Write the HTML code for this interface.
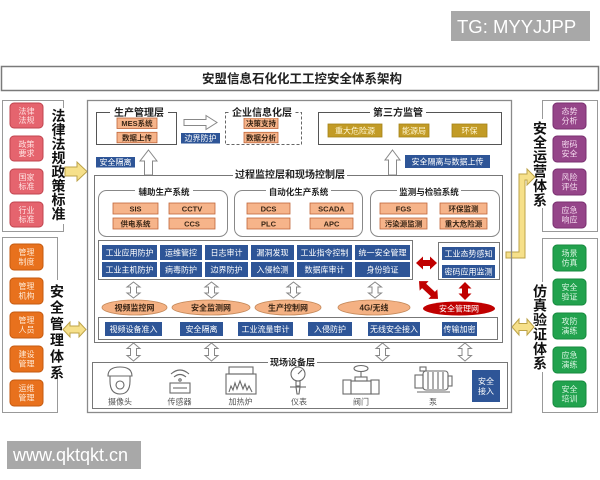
<!DOCTYPE html>
<html><head><meta charset="utf-8">
<style>
html,body{margin:0;padding:0;background:#fff;width:600px;height:480px;overflow:hidden}
svg{display:block}
text{font-family:"Liberation Sans","Noto Sans CJK SC",sans-serif}
</style></head><body>
<svg width="600" height="480" viewBox="0 0 600 480" xmlns="http://www.w3.org/2000/svg">
<rect width="600" height="480" fill="#fff"/>

<!-- watermarks -->
<rect x="451" y="11" width="139" height="30" fill="#a8a8a8"/>
<text x="457" y="33" font-size="18.5" fill="#fff">TG: MYYJJPP</text>
<rect x="7" y="441" width="134" height="28" fill="#a8a8a8"/>
<text x="13" y="461" font-size="18" fill="#fff">www.qktqkt.cn</text>

<!-- title -->
<rect x="1.5" y="66.5" width="597" height="24" fill="#fff" stroke="#7a7a7a" stroke-width="1.5"/>
<text x="302" y="83" font-size="12.5" font-weight="bold" text-anchor="middle" fill="#222">安盟信息石化化工工控安全体系架构</text>

<!-- LEFT UPPER PANEL -->
<rect x="2.5" y="100.5" width="61" height="131" fill="none" stroke="#999"/>
<rect x="50" y="108" width="17" height="116" fill="#fff"/>
<g font-size="14" font-weight="bold" text-anchor="middle" fill="#111">
<text x="58.5" y="121">法</text><text x="58.5" y="135">律</text><text x="58.5" y="149">法</text><text x="58.5" y="163">规</text>
<text x="58.5" y="177">政</text><text x="58.5" y="191">策</text><text x="58.5" y="205">标</text><text x="58.5" y="219">准</text>
</g>
<g fill="#e5646e" stroke="#c0454f">
<rect x="10" y="103" width="33" height="25" rx="4"/><rect x="10" y="136" width="33" height="25" rx="4"/>
<rect x="10" y="169" width="33" height="25" rx="4"/><rect x="10" y="202" width="33" height="25" rx="4"/>
</g>
<g font-size="8" fill="#ffe2e2" text-anchor="middle">
<text x="26.5" y="114">法律</text><text x="26.5" y="123">法规</text>
<text x="26.5" y="147">政策</text><text x="26.5" y="156">要求</text>
<text x="26.5" y="180">国家</text><text x="26.5" y="189">标准</text>
<text x="26.5" y="213">行业</text><text x="26.5" y="222">标准</text>
</g>
<path d="M65,167 L77,167 L77,162 L87,171.5 L77,181 L77,176 L65,176 Z" fill="#f6e08a" stroke="#bda348"/>

<!-- LEFT LOWER PANEL -->
<rect x="2.5" y="237.5" width="55" height="175" fill="none" stroke="#999"/>
<rect x="49" y="280" width="17" height="98" fill="#fff"/>
<g font-size="14" font-weight="bold" text-anchor="middle" fill="#111">
<text x="57" y="296.3">安</text><text x="57" y="312.6">全</text><text x="57" y="328.9">管</text>
<text x="57" y="345.2">理</text><text x="57" y="361.5">体</text><text x="57" y="377.8">系</text>
</g>
<g fill="#e8711d" stroke="#c55a10">
<rect x="10" y="244" width="33" height="26" rx="4"/><rect x="10" y="278" width="33" height="26" rx="4"/>
<rect x="10" y="312" width="33" height="26" rx="4"/><rect x="10" y="346" width="33" height="26" rx="4"/>
<rect x="10" y="380" width="33" height="26" rx="4"/>
</g>
<g font-size="8" fill="#ffead6" text-anchor="middle">
<text x="26.5" y="255">管理</text><text x="26.5" y="264.5">制度</text>
<text x="26.5" y="289">管理</text><text x="26.5" y="298.5">机构</text>
<text x="26.5" y="323">管理</text><text x="26.5" y="332.5">人员</text>
<text x="26.5" y="357">建设</text><text x="26.5" y="366.5">管理</text>
<text x="26.5" y="391">运维</text><text x="26.5" y="400.5">管理</text>
</g>
<path d="M63,329.5 L70,322 L70,326 L79,326 L79,322 L86,329.5 L79,337 L79,333 L70,333 L70,337 Z" fill="#f6e08a" stroke="#bda348"/>

<!-- RIGHT UPPER PANEL -->
<rect x="542.5" y="100.5" width="55" height="131" fill="none" stroke="#999"/>
<rect x="532" y="119" width="17" height="89" fill="#fff"/>
<g font-size="14" font-weight="bold" text-anchor="middle" fill="#111">
<text x="540" y="133.3">安</text><text x="540" y="147.7">全</text><text x="540" y="162.1">运</text>
<text x="540" y="176.5">营</text><text x="540" y="190.9">体</text><text x="540" y="205.3">系</text>
</g>
<g fill="#954589" stroke="#7a3070">
<rect x="553" y="103" width="33" height="26" rx="4"/><rect x="553" y="136" width="33" height="26" rx="4"/>
<rect x="553" y="169" width="33" height="26" rx="4"/><rect x="553" y="202" width="33" height="26" rx="4"/>
</g>
<g font-size="8" fill="#f6dcf0" text-anchor="middle">
<text x="569.5" y="114">态势</text><text x="569.5" y="123.5">分析</text>
<text x="569.5" y="147">密码</text><text x="569.5" y="156.5">安全</text>
<text x="569.5" y="180">风险</text><text x="569.5" y="189.5">评估</text>
<text x="569.5" y="213">应急</text><text x="569.5" y="222.5">响应</text>
</g>

<!-- RIGHT LOWER PANEL -->
<rect x="542.5" y="238.5" width="55" height="174" fill="none" stroke="#999"/>
<rect x="532" y="282" width="17" height="90" fill="#fff"/>
<g font-size="14" font-weight="bold" text-anchor="middle" fill="#111">
<text x="540" y="296.3">仿</text><text x="540" y="310.7">真</text><text x="540" y="325.1">验</text>
<text x="540" y="339.5">证</text><text x="540" y="353.9">体</text><text x="540" y="368.3">系</text>
</g>
<g fill="#22a24e" stroke="#168a3e">
<rect x="553" y="245" width="33" height="26" rx="4"/><rect x="553" y="279" width="33" height="26" rx="4"/>
<rect x="553" y="313" width="33" height="26" rx="4"/><rect x="553" y="347" width="33" height="26" rx="4"/>
<rect x="553" y="381" width="33" height="26" rx="4"/>
</g>
<g font-size="8" fill="#dcf6e4" text-anchor="middle">
<text x="569.5" y="256">场景</text><text x="569.5" y="265.5">仿真</text>
<text x="569.5" y="290">安全</text><text x="569.5" y="299.5">验证</text>
<text x="569.5" y="324">攻防</text><text x="569.5" y="333.5">演练</text>
<text x="569.5" y="358">应急</text><text x="569.5" y="367.5">演练</text>
<text x="569.5" y="392">安全</text><text x="569.5" y="401.5">培训</text>
</g>
<path d="M512,327 L519,319 L519,323.5 L527,323.5 L527,319 L534,327 L527,335 L527,330.5 L519,330.5 L519,335 Z" fill="#f6e08a" stroke="#bda348"/>
<path d="M506,252 L519,252 L519,174 L527,174 L527,169 L535,177 L527,185 L527,180 L525,180 L525,258 L506,258 Z" fill="#f6e08a" stroke="#bda348"/>

<!-- MAIN BOX -->
<rect x="87.5" y="100.5" width="424" height="312" fill="none" stroke="#8a8a8a" stroke-width="1.3"/>

<!-- 生产管理层 -->
<rect x="96.5" y="112.5" width="80" height="32" fill="none" stroke="#555"/>
<rect x="110" y="106" width="58" height="12" fill="#fff"/>
<text x="139" y="115.8" font-size="10" font-weight="bold" text-anchor="middle" fill="#222">生产管理层</text>
<g fill="#f6b48a" stroke="#c0663a" stroke-width="0.8">
<rect x="117" y="118" width="40" height="10.5"/><rect x="117" y="132.3" width="40" height="10.5"/>
<rect x="244" y="118" width="34" height="10.5"/><rect x="244" y="132.3" width="34" height="10.5"/>
</g>
<g font-size="7.5" font-weight="bold" text-anchor="middle" fill="#3a2616">
<text x="137" y="126">MES系统</text><text x="137" y="140.3">数据上传</text>
<text x="261" y="126">决策支持</text><text x="261" y="140.3">数据分析</text>
</g>
<path d="M184,119.5 L206,119.5 L206,115.5 L217,122.5 L206,129.5 L206,125.5 L184,125.5 Z" fill="#fff" stroke="#888"/>
<rect x="181" y="133" width="39" height="10.5" fill="#2e5597"/>
<text x="200.5" y="141" font-size="8" text-anchor="middle" fill="#fff">边界防护</text>

<!-- 企业信息化层 -->
<rect x="225.5" y="112.5" width="76" height="32" fill="none" stroke="#666" stroke-dasharray="3,2"/>
<rect x="230" y="106" width="64" height="12" fill="#fff"/>
<text x="262" y="115.8" font-size="10" font-weight="bold" text-anchor="middle" fill="#222">企业信息化层</text>

<rect x="96" y="157" width="39" height="10.5" fill="#2e5597"/>
<text x="115.5" y="165" font-size="8" text-anchor="middle" fill="#fff">安全隔离</text>
<path d="M148.5,150 L157,161 L152.5,161 L152.5,175 L144.5,175 L144.5,161 L140,161 Z" fill="#fff" stroke="#888"/>

<!-- 第三方监管 -->
<rect x="318.5" y="112.5" width="183" height="32" fill="none" stroke="#555"/>
<rect x="370" y="106" width="56" height="12" fill="#fff"/>
<text x="398" y="115.8" font-size="10" font-weight="bold" text-anchor="middle" fill="#222">第三方监管</text>
<g fill="#c29b26" stroke="#a5831a" stroke-width="0.8">
<rect x="328" y="124" width="54" height="13"/><rect x="399" y="124" width="30" height="13"/><rect x="452" y="124" width="35" height="13"/>
</g>
<g font-size="8" text-anchor="middle" fill="#fff6d0">
<text x="355" y="133.3">重大危险源</text><text x="414" y="133.3">能源局</text><text x="469.5" y="133.3">环保</text>
</g>
<path d="M392.5,150 L400,160 L396.5,160 L396.5,175 L388.5,175 L388.5,160 L385,160 Z" fill="#fff" stroke="#888"/>
<rect x="405" y="155" width="85" height="13" fill="#2e5597"/>
<text x="447.5" y="164.3" font-size="8" text-anchor="middle" fill="#fff">安全隔离与数据上传</text>

<!-- PROCESS BOX -->
<rect x="94.5" y="175.5" width="408" height="167" fill="none" stroke="#777"/>
<rect x="233" y="168" width="114" height="12" fill="#fff"/>
<text x="290" y="177.8" font-size="10" font-weight="bold" text-anchor="middle" fill="#222">过程监控层和现场控制层</text>

<!-- subsystems -->
<g fill="none" stroke="#888">
<rect x="98.5" y="190.5" width="129" height="46" rx="8"/>
<rect x="234.5" y="190.5" width="128" height="46" rx="8"/>
<rect x="370.5" y="190.5" width="129" height="46" rx="8"/>
</g>
<g fill="#fff">
<rect x="135" y="186" width="58" height="10"/><rect x="266" y="186" width="65" height="10"/><rect x="397" y="186" width="64" height="10"/>
</g>
<g font-size="8.5" font-weight="bold" text-anchor="middle" fill="#222">
<text x="164" y="195">辅助生产系统</text><text x="298.5" y="195">自动化生产系统</text><text x="429" y="195">监测与检验系统</text>
</g>
<g fill="#f6b48a" stroke="#c0663a" stroke-width="0.8">
<rect x="113" y="203" width="45" height="11"/><rect x="169" y="203" width="46" height="11"/>
<rect x="113" y="218" width="45" height="11"/><rect x="169" y="218" width="46" height="11"/>
<rect x="247" y="203" width="43" height="11"/><rect x="310" y="203" width="43" height="11"/>
<rect x="247" y="218" width="43" height="11"/><rect x="310" y="218" width="43" height="11"/>
<rect x="380" y="203" width="47" height="11"/><rect x="440" y="203" width="47" height="11"/>
<rect x="380" y="218" width="47" height="11"/><rect x="440" y="218" width="47" height="11"/>
</g>
<g font-size="7.5" font-weight="bold" text-anchor="middle" fill="#3a2616">
<text x="135.5" y="211.3">SIS</text><text x="192" y="211.3">CCTV</text>
<text x="135.5" y="226.3">供电系统</text><text x="192" y="226.3">CCS</text>
<text x="268.5" y="211.3">DCS</text><text x="331.5" y="211.3">SCADA</text>
<text x="268.5" y="226.3">PLC</text><text x="331.5" y="226.3">APC</text>
<text x="403.5" y="211.3">FGS</text><text x="463.5" y="211.3">环保监测</text>
<text x="403.5" y="226.3">污染源监测</text><text x="463.5" y="226.3">重大危险源</text>
</g>

<!-- blue grid -->
<rect x="98.5" y="240.5" width="314" height="39" fill="#fff" stroke="#777"/>
<g fill="#2e5597">
<rect x="102" y="245" width="55" height="15"/><rect x="160" y="245" width="42" height="15"/><rect x="205" y="245" width="43" height="15"/>
<rect x="251" y="245" width="43" height="15"/><rect x="297" y="245" width="55" height="15"/><rect x="355" y="245" width="55" height="15"/>
<rect x="102" y="262" width="55" height="15"/><rect x="160" y="262" width="42" height="15"/><rect x="205" y="262" width="43" height="15"/>
<rect x="251" y="262" width="43" height="15"/><rect x="297" y="262" width="55" height="15"/><rect x="355" y="262" width="55" height="15"/>
</g>
<g font-size="8" text-anchor="middle" fill="#fff">
<text x="129.5" y="255.3">工业应用防护</text><text x="181" y="255.3">运维管控</text><text x="226.5" y="255.3">日志审计</text>
<text x="272.5" y="255.3">漏洞发现</text><text x="324.5" y="255.3">工业指令控制</text><text x="382.5" y="255.3">统一安全管理</text>
<text x="129.5" y="272.3">工业主机防护</text><text x="181" y="272.3">病毒防护</text><text x="226.5" y="272.3">边界防护</text>
<text x="272.5" y="272.3">入侵检测</text><text x="324.5" y="272.3">数据库审计</text><text x="382.5" y="272.3">身份验证</text>
</g>

<!-- right small box -->
<rect x="438.5" y="242.5" width="61" height="37" fill="#fff" stroke="#777"/>
<rect x="442" y="247" width="53" height="13" fill="#2e5597"/>
<rect x="442" y="265" width="53" height="13" fill="#2e5597"/>
<g font-size="8" text-anchor="middle" fill="#fff">
<text x="468.5" y="256.3">工业态势感知</text><text x="468.5" y="274.3">密码应用监测</text>
</g>

<!-- red arrows -->
<g fill="#c00000">
<path d="M416,263 L423,256.5 L423,260 L430,260 L430,256.5 L437,263 L430,269.5 L430,266 L423,266 L423,269.5 Z"/>
<g transform="translate(428.5,290) rotate(43)"><path d="M-13,0 L-6,-6.5 L-6,-3 L6,-3 L6,-6.5 L13,0 L6,6.5 L6,3 L-6,3 L-6,6.5 Z"/></g>
<path d="M465,282 L471.5,288.5 L468,288.5 L468,293.5 L471.5,293.5 L465,300 L458.5,293.5 L462,293.5 L462,288.5 L458.5,288.5 Z"/>
</g>

<!-- hollow double arrows -->
<g fill="#fff" stroke="#888">
<path d="M133.5,282 L140,287 L136.5,287 L136.5,293 L140,293 L133.5,298 L127,293 L130.5,293 L130.5,287 L127,287 Z"/>
<path d="M211.5,282 L218,287 L214.5,287 L214.5,293 L218,293 L211.5,298 L205,293 L208.5,293 L208.5,287 L205,287 Z"/>
<path d="M293.5,282 L300,287 L296.5,287 L296.5,293 L300,293 L293.5,298 L287,293 L290.5,293 L290.5,287 L287,287 Z"/>
<path d="M375,282 L381.5,287 L378,287 L378,293 L381.5,293 L375,298 L368.5,293 L372,293 L372,287 L368.5,287 Z"/>
<path d="M133.5,343 L140,348.5 L136.5,348.5 L136.5,355.5 L140,355.5 L133.5,361 L127,355.5 L130.5,355.5 L130.5,348.5 L127,348.5 Z"/>
<path d="M211.5,343 L218,348.5 L214.5,348.5 L214.5,355.5 L218,355.5 L211.5,361 L205,355.5 L208.5,355.5 L208.5,348.5 L205,348.5 Z"/>
<path d="M382.5,343 L389,348.5 L385.5,348.5 L385.5,355.5 L389,355.5 L382.5,361 L376,355.5 L379.5,355.5 L379.5,348.5 L376,348.5 Z"/>
<path d="M465,343 L471.5,348.5 L468,348.5 L468,355.5 L471.5,355.5 L465,361 L458.5,355.5 L462,355.5 L462,348.5 L458.5,348.5 Z"/>
</g>

<!-- ellipses -->
<g fill="#f4b183" stroke="#c5895a" stroke-width="0.8">
<ellipse cx="134.5" cy="307.5" rx="32.5" ry="7.5"/>
<ellipse cx="211" cy="307.5" rx="39" ry="7.5"/>
<ellipse cx="288" cy="307.5" rx="33" ry="7.5"/>
<ellipse cx="374" cy="307.5" rx="36" ry="7.5"/>
</g>
<ellipse cx="459" cy="308.5" rx="36" ry="7" fill="#c00000"/>
<g font-size="8" font-weight="bold" text-anchor="middle" fill="#3a2616">
<text x="134.5" y="310.3">视频监控网</text><text x="211" y="310.3">安全监测网</text>
<text x="288" y="310.3">生产控制网</text><text x="374" y="310.3">4G/无线</text>
</g>
<text x="459" y="311.3" font-size="8" text-anchor="middle" fill="#fff">安全管理网</text>

<!-- lower row -->
<rect x="98.5" y="317.5" width="399" height="22" fill="#fff" stroke="#777"/>
<g fill="#2e5597">
<rect x="105" y="322" width="57" height="14"/><rect x="180" y="322" width="43" height="14"/><rect x="238" y="322" width="55" height="14"/>
<rect x="308" y="322" width="44" height="14"/><rect x="368" y="322" width="52" height="14"/><rect x="442" y="322" width="35" height="14"/>
</g>
<g font-size="8" text-anchor="middle" fill="#fff">
<text x="133.5" y="331.8">视频设备准入</text><text x="201.5" y="331.8">安全隔离</text><text x="265.5" y="331.8">工业流量审计</text>
<text x="330" y="331.8">入侵防护</text><text x="394" y="331.8">无线安全接入</text><text x="459.5" y="331.8">传输加密</text>
</g>

<!-- FIELD LAYER -->
<rect x="92.5" y="362.5" width="415" height="46" fill="none" stroke="#777"/>
<rect x="268" y="357" width="49" height="10" fill="#fff"/>
<text x="292.5" y="365.3" font-size="9" font-weight="bold" text-anchor="middle" fill="#222">现场设备层</text>

<g fill="none" stroke="#6a6a6a" stroke-width="1.1">
<!-- camera -->
<path d="M108,376 Q108,367 120,367 Q132,367 132,376 Z"/>
<path d="M110,376 L110,381 Q110,394 120,394 Q130,394 130,381 L130,376"/>
<circle cx="120" cy="385" r="4"/>
<!-- sensor -->
<path d="M171,374 Q180,366 189,374"/>
<path d="M174,377 Q180,372 186,377"/>
<circle cx="180" cy="380" r="1.2"/>
<rect x="170" y="383" width="20" height="10"/>
<line x1="173" y1="388" x2="187" y2="388"/>
<!-- furnace -->
<rect x="229" y="367" width="24" height="7"/>
<rect x="226" y="374" width="30" height="20"/>
<path d="M229,392 L231,386 L233,390 L235,383 L237,389 L240,381 L243,389 L245,384 L247,390 L249,386 L252,392"/>
<!-- gauge -->
<circle cx="298" cy="374" r="7"/>
<line x1="298" y1="374" x2="302" y2="370"/>
<rect x="296" y="381" width="4" height="5"/>
<line x1="290" y1="387" x2="306" y2="387"/>
<path d="M296,387 L297,394 L299,394 L300,387"/>
<!-- valve -->
<ellipse cx="361" cy="368.5" rx="7" ry="3"/>
<line x1="361" y1="371.5" x2="361" y2="377"/>
<rect x="355" y="377" width="12" height="4"/>
<rect x="351" y="381" width="20" height="13"/>
<rect x="343" y="380" width="8" height="14"/>
<rect x="371" y="380" width="8" height="14"/>
<!-- pump -->
<rect x="423" y="371" width="25" height="19" rx="3"/>
<line x1="428" y1="372" x2="428" y2="389"/><line x1="433" y1="372" x2="433" y2="389"/>
<line x1="438" y1="372" x2="438" y2="389"/><line x1="443" y1="372" x2="443" y2="389"/>
<rect x="415" y="375" width="8" height="13"/>
<rect x="448" y="376" width="4" height="10"/>
<rect x="420" y="367" width="6" height="4"/>
<line x1="417" y1="392" x2="450" y2="392"/>
</g>
<g font-size="8" text-anchor="middle" fill="#555">
<text x="120" y="404.3">摄像头</text><text x="179.5" y="404.3">传感器</text><text x="240.5" y="404.3">加热炉</text>
<text x="299" y="404.3">仪表</text><text x="361" y="404.3">阀门</text><text x="433" y="404.3">泵</text>
</g>
<rect x="472" y="370" width="28" height="32" fill="#2e5597"/>
<g font-size="8" text-anchor="middle" fill="#fff">
<text x="486" y="384">安全</text><text x="486" y="394">接入</text>
</g>
</svg>
</body></html>
